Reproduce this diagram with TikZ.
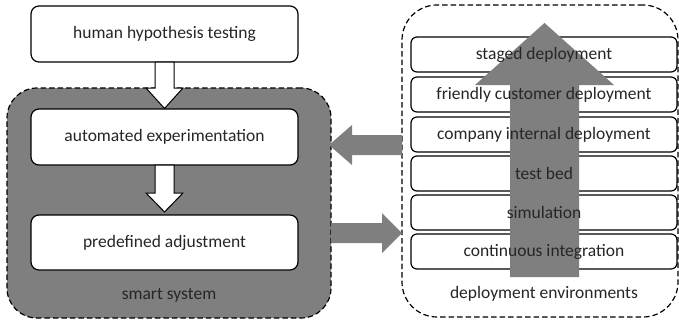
\documentclass[tikz,border=0pt]{standalone}
\usepackage{fontspec}
\setmainfont{Carlito}
\definecolor{boxgray}{HTML}{7F7F7F}
\definecolor{txt}{HTML}{262626}
\begin{document}
\begin{tikzpicture}[x=1pt,y=-1pt,
  lbl/.style={font=\fontsize{17.5}{20}\selectfont, text=txt, inner sep=0pt},
  bigbox/.style={draw=black, line width=1.2pt, fill=white, rounded corners=8pt,
    minimum width=267pt, minimum height=56pt, inner sep=0pt, lbl},
  rowbox/.style={draw=black, line width=1.2pt, fill=white, rounded corners=6pt,
    minimum width=266pt, minimum height=35pt, inner sep=0pt},
  group/.style={draw=black, line width=1.2pt, dash pattern=on 5.5pt off 3pt,
    inner sep=0pt},
  whitearrow/.style={draw=black, line width=1pt, fill=white, line join=miter},
  grayarrow/.style={fill=boxgray, draw=none}
]
\useasboundingbox (0,0) rectangle (679,322);

% groups
\node[group, fill=boxgray, rounded corners=30pt, minimum width=324pt, minimum height=230pt] (smart) at (169,203) {};
\node[group, fill=white, rounded corners=35pt, minimum width=276pt, minimum height=312pt] (deploy) at (540,161) {};
\node[lbl] (smartlbl) at (169,295) {smart system};
\node[lbl] (deploylbl) at (544,294) {deployment environments};

% left boxes
\node[bigbox] (human) at (164.5,34) {human hypothesis testing};
\node[bigbox] (auto) at (164.5,137) {automated experimentation};
\node[bigbox, minimum height=55pt] (pre) at (164.5,242.5) {predefined adjustment};

% white arrows
\draw[whitearrow] (155,62) -- (155,88) -- (146,88) -- (164.5,108.5) -- (183,88) -- (174,88) -- (174,62) -- cycle;
\draw[whitearrow] (155,165) -- (155,193) -- (146,193) -- (164.5,212) -- (183,193) -- (174,193) -- (174,165) -- cycle;

% rows
\node[rowbox] (r1) at (544,54.5) {};
\node[rowbox] (r2) at (544,94.5) {};
\node[rowbox] (r3) at (544,134.5) {};
\node[rowbox] (r4) at (544,173.5) {};
\node[rowbox] (r5) at (544,212.5) {};
\node[rowbox] (r6) at (544,251.5) {};

% big up arrow
\fill[boxgray] (510,277) -- (510,85) -- (475,85) -- (544.5,23) -- (614,85) -- (579,85) -- (579,277) -- cycle;

% row texts
\node[lbl] (t1) at (r1) {staged deployment};
\node[lbl] (t2) at (r2) {friendly customer deployment};
\node[lbl] (t3) at (r3) {company internal deployment};
\node[lbl] (t4) at (r4) {test bed};
\node[lbl] (t5) at (r5) {simulation};
\node[lbl] (t6) at (r6) {continuous integration};

% gray arrows between groups
\fill[grayarrow] (402,135) -- (352,135) -- (352,125) -- (329,145) -- (352,165) -- (352,155) -- (402,155) -- cycle;
\fill[grayarrow] (331,223) -- (382,223) -- (382,213) -- (402,233) -- (382,253) -- (382,243) -- (331,243) -- cycle;
\end{tikzpicture}
\end{document}
